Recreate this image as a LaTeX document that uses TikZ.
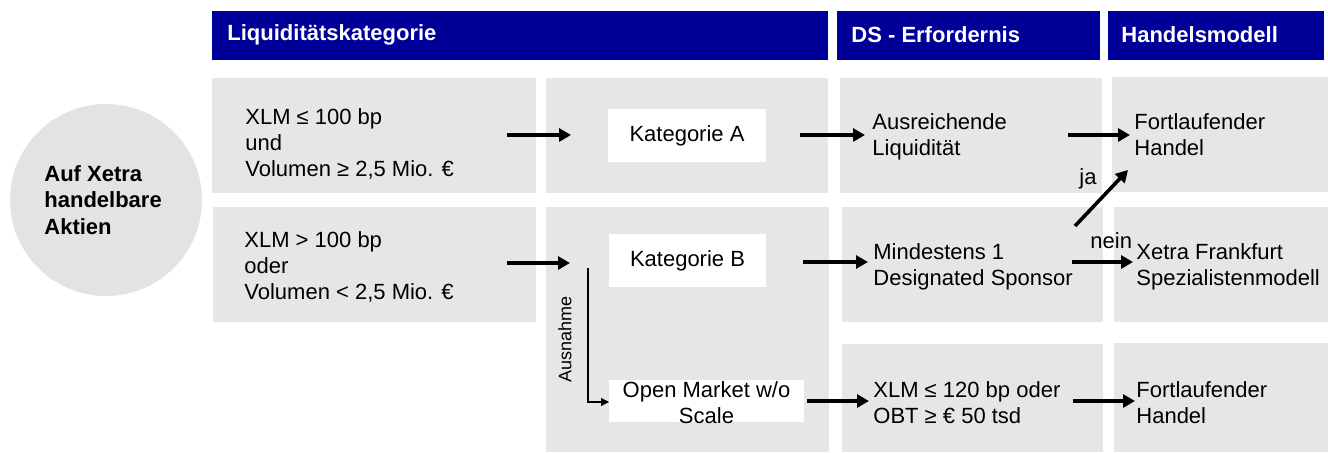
\documentclass[tikz,border=0pt]{standalone}
\usepackage{fontspec}
\setmainfont{Liberation Sans}
\usetikzlibrary{arrows.meta}
\definecolor{hdrblue}{HTML}{000099}
\definecolor{boxgrey}{HTML}{E6E6E6}
\definecolor{circgrey}{HTML}{E3E3E3}
\begin{document}
\begin{tikzpicture}[x=0.5pt,y=-0.5pt,
  hdrtext/.style={text=white, font=\fontsize{11}{13}\selectfont\bfseries, anchor=west, inner sep=0},
  txt/.style={font=\fontsize{11}{13}\selectfont, align=left, anchor=base west, inner sep=0},
  boldtxt/.style={font=\fontsize{11}{13.2}\selectfont\bfseries, align=left, anchor=base west, inner sep=0},
  katbox/.style={fill=white, inner sep=0, font=\fontsize{11}{13}\selectfont, align=center},
  arr/.style={-{Triangle[length=6pt,width=6.5pt]}, line width=1.8pt},
  thinarr/.style={-{Triangle[length=4pt,width=4pt]}, line width=0.6pt},
  sidelbl/.style={font=\fontsize{9}{11}\selectfont, inner sep=0, rotate=90}
]
\useasboundingbox (0,0) rectangle (1328,452);
% headers
\fill[hdrblue] (212,11) rectangle (828,60);
\fill[hdrblue] (837,11) rectangle (1100,60);
\fill[hdrblue] (1108,11) rectangle (1324,60);
\node[hdrtext] (h1) at (227,35) {Liquiditätskategorie};
\node[hdrtext] (h2) at (851,35) {DS - Erfordernis};
\node[hdrtext] (h3) at (1121,35) {Handelsmodell};
% grey boxes
\fill[boxgrey] (212,78) rectangle (536,193);
\fill[boxgrey] (546,78) rectangle (828,193);
\fill[boxgrey] (840,78) rectangle (1102,193);
\fill[boxgrey] (1112,77) rectangle (1328,192);
\fill[boxgrey] (213,207) rectangle (536,322);
\fill[boxgrey] (546,207) rectangle (829,452);
\fill[boxgrey] (842,207) rectangle (1103,322);
\fill[boxgrey] (1114,207) rectangle (1328,322);
\fill[boxgrey] (842,344) rectangle (1103,452);
\fill[boxgrey] (1114,343) rectangle (1328,452);
% circle
\fill[circgrey] (106,200) circle[radius=96];
\node[boldtxt] (auf) at (44,234) {Auf Xetra\\handelbare\\Aktien};
% row 1
\node[txt] (c1a) at (245,176) {XLM ≤ 100 bp\\und\\Volumen ≥ 2,5 Mio. €};
\node[katbox, minimum width=158*0.5pt, minimum height=53*0.5pt] (kA) at (687,135.5) {Kategorie A};
\node[txt] (liqA) at (872,155) {Ausreichende\\Liquidität};
\node[txt] (fhA) at (1134,155) {Fortlaufender\\Handel};
% row 2
\node[txt] (c1b) at (244,299) {XLM > 100 bp\\oder\\Volumen < 2,5 Mio. €};
\node[katbox, minimum width=157*0.5pt, minimum height=53*0.5pt] (kB) at (687.5,260.5) {Kategorie B};
\node[txt] (dsB) at (873,285) {Mindestens 1\\Designated Sponsor};
\node[txt] (xfB) at (1136,285) {Xetra Frankfurt\\Spezialistenmodell};
\node[txt] (nein) at (1090,248) {nein};
\node[txt] (ja) at (1079,184) {ja};
% row 3
\fill[white] (609,380) rectangle (804,422);
\node[katbox, fill=none, anchor=base, inner sep=0] (kO) at (706.5,423) {Open Market w/o\\Scale};
\node[txt] (dsC) at (873,423) {XLM ≤ 120 bp oder\\OBT ≥ € 50 tsd};
\node[txt] (fhC) at (1136,423) {Fortlaufender\\Handel};
% arrow coordinates
\coordinate (a1s) at (507,135); \coordinate (a1e) at (571,135);
\coordinate (a2s) at (800,135); \coordinate (a2e) at (865,135);
\coordinate (a3s) at (1068,135); \coordinate (a3e) at (1130,135);
\coordinate (b1s) at (507,263); \coordinate (b1e) at (570,263);
\coordinate (b2s) at (803,262); \coordinate (b2e) at (868,262);
\coordinate (b3s) at (1072,262); \coordinate (b3e) at (1133,262);
\coordinate (jas) at (1075,226); \coordinate (jae) at (1128,170);
\coordinate (c2s) at (807,401); \coordinate (c2e) at (869,401);
\coordinate (c3s) at (1073,401); \coordinate (c3e) at (1135,401);
\coordinate (ausS) at (588,268); \coordinate (ausC) at (588,402); \coordinate (ausE) at (609,402);
\draw[arr] (a1s) -- (a1e);
\draw[arr] (a2s) -- (a2e);
\draw[arr] (a3s) -- (a3e);
\draw[arr, line width=1.6pt] (b1s) -- (b1e);
\draw[arr] (b2s) -- (b2e);
\draw[arr] (b3s) -- (b3e);
\draw[arr] (jas) -- (jae);
\draw[arr] (c2s) -- (c2e);
\draw[arr] (c3s) -- (c3e);
\draw[thinarr] (ausS) -- (ausC) -- (ausE);
\node[sidelbl] (aus) at (565,339) {Ausnahme};
\end{tikzpicture}
\end{document}
